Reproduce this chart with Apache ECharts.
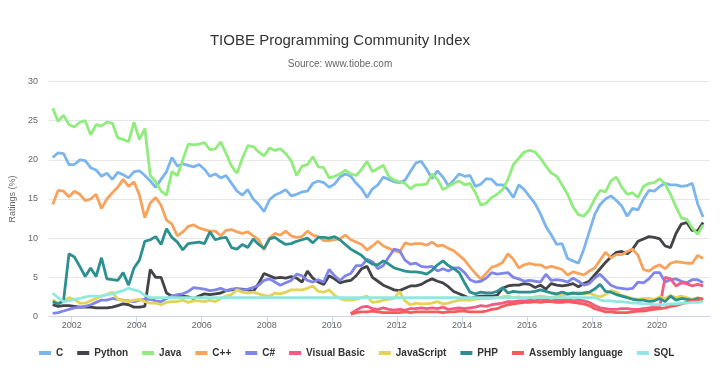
<!DOCTYPE html>
<html>
<head>
<meta charset="utf-8">
<script src="https://cdn.jsdelivr.net/npm/echarts@6/dist/echarts.min.js"></script>
<style>
html,body{margin:0;padding:0;background:#fff;}
#chart{width:727px;height:384px;}
</style>
</head>
<body>
<div id="chart"></div>
<script>
// Monthly series sampled every 2 months, from June 2001 to June 2021
const START_YEAR = 2001;
const START_MONTH = 6;
const STEP_MONTHS = 2;

const xTicks = [2002, 2004, 2006, 2008, 2010, 2012, 2014, 2016, 2018, 2020];
const yTicks = [0, 5, 10, 15, 20, 25, 30];

const seriesNames = ['C', 'Python', 'Java', 'C++', 'C#', 'Visual Basic', 'JavaScript', 'PHP', 'Assembly language', 'SQL'];

const cValues = [
  20.3, 20.9, 20.8, 19.4,
  19.4, 20.0, 19.9, 19.0, 18.7, 17.9,
  18.3, 17.5, 18.4, 18.1, 17.7, 18.5,
  18.6, 18.0, 17.3, 16.5, 17.5, 18.5,
  20.3, 19.2, 19.5, 19.3, 19.1, 19.4,
  18.8, 17.9, 18.2, 17.7, 18.0, 17.0,
  16.0, 15.5, 16.2, 15.0, 14.3, 13.4,
  14.9, 15.5, 15.8, 16.2, 15.4, 15.6,
  15.9, 16.0, 17.0, 17.3, 17.1, 16.5,
  16.9, 17.8, 18.2, 17.9, 17.0, 16.3,
  15.2, 16.3, 16.8, 17.8, 17.5, 17.2,
  17.1, 17.4, 18.5, 19.6, 19.8, 18.8,
  17.6, 18.6, 17.8, 16.7, 17.4, 18.2,
  17.9, 18.0, 16.6, 16.9, 17.6, 17.5,
  16.8, 16.8, 16.2, 15.2, 16.8, 16.2,
  15.3, 14.4, 13.1, 11.5, 10.4, 9.2,
  9.3, 7.4, 7.1, 6.8, 8.6, 10.8,
  13.0, 14.3, 15.0, 15.4, 14.8, 14.1,
  12.8, 13.8, 13.6, 15.0, 16.1, 16.0,
  16.6, 17.0, 16.8, 16.8, 16.6, 16.7,
  17.0, 14.4, 12.7
];

const pythonValues = [
  1.5, 1.3, 1.4, 1.4,
  1.3, 1.2, 1.2, 1.2, 1.1, 1.1,
  1.1, 1.2, 1.4, 1.6, 1.5, 1.2,
  1.2, 1.3, 6.0, 5.0, 5.0, 3.0,
  2.6, 2.6, 2.6, 2.5, 2.3, 2.6,
  2.9, 2.8, 2.9, 3.0, 3.3, 3.4,
  3.5, 3.5, 3.4, 3.2, 4.2, 5.5,
  5.2, 4.9, 5.0, 4.9, 5.1, 4.9,
  4.4, 5.8, 4.9, 4.4, 4.1, 5.2,
  4.8, 4.3, 4.5, 4.6, 5.2, 6.1,
  6.4, 5.0, 4.5, 4.0, 3.7, 3.4,
  3.3, 3.6, 3.9, 3.9, 4.1, 4.5,
  4.8, 4.5, 4.3, 3.8, 3.2, 2.9,
  2.6, 2.3, 2.5, 2.6, 2.6, 2.6,
  2.7, 3.6, 3.9, 4.0, 4.0, 4.2,
  4.1, 3.7, 4.0, 3.5, 4.2, 4.0,
  3.9, 4.0, 4.2, 3.8, 4.2, 4.5,
  5.3, 6.1, 6.9, 7.6, 8.2, 8.3,
  8.0, 8.6, 9.6, 9.9, 10.2, 10.1,
  9.9, 9.0, 8.8, 10.6, 11.8, 12.0,
  11.0, 10.9, 12.0
];

const javaValues = [
  26.6, 24.9, 25.7, 24.5,
  24.2, 24.8, 25.0, 23.2, 24.5, 24.3,
  24.8, 24.7, 22.8, 22.6, 22.3, 24.8,
  22.6, 24.0, 18.0, 17.2, 16.0, 15.5,
  18.5, 18.0, 20.0, 22.0, 21.9, 22.0,
  22.2, 21.3, 21.4, 22.3, 20.8, 19.2,
  18.3, 20.2, 21.8, 21.7, 21.0, 20.5,
  21.5, 21.2, 21.4, 20.8, 19.9, 18.0,
  19.2, 19.4, 20.4, 19.1, 19.0, 17.7,
  17.9, 18.2, 18.7, 18.2, 18.0, 18.8,
  19.8, 18.5, 18.9, 19.3, 17.9, 17.4,
  17.2, 17.0, 16.3, 16.8, 16.8, 16.9,
  18.2, 17.5, 16.2, 16.6, 17.0, 17.3,
  16.8, 17.0, 15.8, 14.2, 14.5, 15.2,
  15.6, 16.2, 17.5, 19.4, 20.2, 21.0,
  21.2, 21.0, 20.2, 19.2, 18.3, 17.9,
  16.8, 15.6, 14.0, 13.0, 12.8, 13.6,
  15.0, 16.1, 15.9, 17.3, 17.8, 16.5,
  15.6, 15.8, 15.2, 16.6, 17.0, 17.1,
  17.6, 16.9, 15.6, 14.0, 12.6, 12.4,
  11.3, 10.5, 11.7
];

const cppValues = [
  14.3, 16.1, 16.0, 15.3,
  16.0, 15.6, 14.8, 15.0, 15.6, 13.8,
  15.0, 15.8, 16.5, 17.5, 16.6, 17.2,
  15.5, 12.6, 14.5, 15.2, 14.2, 12.3,
  11.8, 10.3, 10.8, 11.5, 11.7, 11.3,
  11.1, 10.9, 10.9, 10.3, 11.0, 11.1,
  10.8, 10.6, 10.8, 10.3, 9.8, 8.5,
  10.0, 10.6, 10.4, 10.9, 10.3, 10.1,
  10.2, 10.9, 10.4, 10.2, 9.7, 9.7,
  9.8, 9.9, 10.4, 9.8, 9.5, 9.2,
  8.5, 9.0, 9.6, 9.0, 8.7, 8.4,
  8.2, 9.4, 9.2, 9.3, 9.3, 9.1,
  9.5, 9.0, 9.1, 8.7, 8.4, 7.8,
  7.2, 6.3, 5.5, 4.8, 5.5, 6.3,
  6.5, 6.9, 8.0, 7.3, 6.2, 6.6,
  6.8, 6.6, 6.6, 6.2, 6.4, 6.2,
  6.0, 5.3, 5.7, 5.5, 5.3, 5.8,
  6.2, 7.2, 8.2, 7.5, 7.9, 7.9,
  8.3, 8.6, 7.8, 6.0, 5.8, 6.3,
  6.6, 6.1, 6.8, 7.0, 6.9, 6.8,
  6.8, 7.8, 7.4
];

const csharpValues = [
  0.4, 0.5, 0.7, 0.9,
  1.1, 1.2, 1.3, 1.5, 1.8, 2.1,
  2.1, 2.3, 2.2, 2.1, 2.0, 1.9,
  2.1, 2.2, 2.2, 2.0, 1.9, 2.3,
  2.6, 2.8, 2.9, 3.2, 3.7, 3.6,
  3.5, 3.3, 3.4, 3.6, 3.3, 3.5,
  3.6, 3.4, 3.5, 3.7, 4.0, 4.6,
  4.8, 4.4, 4.0, 4.3, 4.6, 5.4,
  5.2, 4.6, 4.4, 4.7, 4.4, 6.0,
  5.2, 4.6, 5.2, 5.5, 6.5, 6.5,
  7.3, 7.0, 6.1, 6.5, 7.6, 8.6,
  8.4, 7.2, 6.7, 6.8, 6.4, 6.3,
  6.4, 5.8, 6.1, 5.8, 6.2, 6.2,
  5.6, 4.7, 4.4, 4.5, 4.9, 5.6,
  5.4, 5.5, 5.6, 5.0, 4.8, 4.5,
  4.6, 4.5, 4.4, 5.4, 4.6, 4.7,
  4.6, 4.4, 4.9, 4.5, 4.0, 4.2,
  4.9, 5.4, 4.7, 4.0, 3.7, 3.6,
  3.5, 3.6, 4.4, 4.3, 4.8, 5.6,
  5.6, 4.4, 4.7, 4.8, 4.5, 4.3,
  4.7, 4.7, 4.3
];

// Visual Basic and Assembly language are only tracked from August 2010 (index 55)
const vbValues = [
  null, null, null, null,
  null, null, null, null, null, null,
  null, null, null, null, null, null,
  null, null, null, null, null, null,
  null, null, null, null, null, null,
  null, null, null, null, null, null,
  null, null, null, null, null, null,
  null, null, null, null, null, null,
  null, null, null, null, null, null,
  null, null, null, 0.4, 0.8, 1.2,
  1.3, 1.0, 0.9, 1.1, 0.9, 0.8,
  0.9, 0.8, 1.0, 1.0, 1.1, 1.0,
  1.1, 1.0, 1.2, 0.9, 1.0, 1.1,
  1.0, 1.1, 1.2, 1.4, 1.3, 1.5,
  1.6, 1.7, 1.9, 1.9, 2.0, 2.0,
  2.1, 2.0, 2.2, 2.1, 2.0, 2.1,
  2.1, 2.2, 2.0, 2.1, 2.0, 1.8,
  1.4, 1.1, 1.0, 0.9, 0.9, 1.0,
  1.0, 0.9, 0.9, 1.0, 1.1, 1.2,
  1.2, 5.0, 4.8, 3.9, 4.3, 4.2,
  3.9, 4.1, 3.9
];

const jsValues = [
  2.1, 1.7, 1.9, 2.4,
  2.2, 1.7, 1.7, 2.0, 2.3, 2.6,
  2.8, 3.1, 2.2, 2.1, 1.9, 2.1,
  2.2, 1.9, 1.7, 1.7, 1.5, 1.8,
  1.9, 1.9, 2.1, 1.8, 2.0, 2.0,
  1.9, 2.1, 1.9, 2.3, 2.6, 2.8,
  3.4, 3.1, 3.0, 3.1, 2.9, 2.7,
  2.6, 3.0, 2.9, 3.1, 3.4, 3.4,
  3.4, 3.6, 3.9, 3.2, 3.1, 3.4,
  2.7, 2.3, 2.1, 2.1, 2.2, 2.4,
  2.6, 1.8, 1.9, 2.1, 2.2, 2.3,
  3.2, 2.0, 1.5, 1.7, 1.6, 1.6,
  1.7, 1.9, 1.6, 1.7, 1.9, 2.1,
  2.1, 2.1, 2.2, 2.3, 2.3, 2.3,
  2.4, 2.5, 2.6, 2.4, 2.5, 2.3,
  2.4, 2.5, 2.6, 2.5, 2.4, 2.6,
  2.7, 2.8, 2.9, 3.1, 2.9, 3.0,
  2.7, 2.5, 2.8, 3.3, 3.1, 2.7,
  2.5, 2.3, 2.2, 2.3, 2.3, 2.2,
  2.5, 2.3, 2.7, 2.4, 2.6, 2.4,
  2.2, 2.4, 2.2
];

const phpValues = [
  1.9, 1.6, 2.0, 8.0,
  7.6, 6.4, 5.1, 6.2, 5.1, 7.5,
  4.8, 4.7, 4.6, 5.6, 4.0, 6.2,
  7.2, 9.6, 9.8, 10.2, 9.2, 11.2,
  10.1, 9.5, 8.5, 9.3, 9.4, 9.5,
  9.3, 10.8, 9.8, 10.0, 10.1, 8.8,
  8.6, 9.2, 8.8, 9.9, 9.2, 8.7,
  9.9, 10.1, 9.6, 9.2, 9.3, 9.6,
  9.8, 10.0, 9.4, 10.1, 10.1, 10.0,
  10.2, 9.8, 9.2, 8.6, 8.2, 7.8,
  7.1, 6.7, 6.6, 7.1, 6.7, 6.2,
  6.0, 5.8, 5.7, 5.7, 5.6, 5.4,
  5.9, 6.6, 7.1, 6.5, 6.1, 5.6,
  4.3, 3.1, 2.9, 3.1, 3.0, 3.0,
  3.2, 3.7, 3.0, 3.2, 3.1, 3.1,
  3.1, 3.2, 3.4, 3.2, 3.0, 2.9,
  3.1, 2.9, 3.0, 2.9, 3.0, 3.1,
  3.5, 4.1, 3.2, 3.1, 2.8, 2.6,
  2.4, 2.2, 2.1, 2.1, 1.9, 2.0,
  2.3, 1.9, 2.6, 2.1, 2.3, 2.2,
  2.1, 2.3, 2.2
];

const asmValues = [
  null, null, null, null,
  null, null, null, null, null, null,
  null, null, null, null, null, null,
  null, null, null, null, null, null,
  null, null, null, null, null, null,
  null, null, null, null, null, null,
  null, null, null, null, null, null,
  null, null, null, null, null, null,
  null, null, null, null, null, null,
  null, null, null, 0.3, 0.5, 0.6,
  0.6, 0.7, 0.6, 0.5, 0.5, 0.5,
  0.5, 0.6, 0.5, 0.6, 0.6, 0.6,
  0.6, 0.6, 0.5, 0.6, 0.6, 0.7,
  0.7, 0.6, 0.6, 0.6, 0.7, 0.9,
  1.0, 1.3, 1.5, 1.6, 1.7, 1.8,
  1.8, 1.9, 1.8, 1.9, 1.9, 1.8,
  1.8, 1.9, 1.8, 1.7, 1.6, 1.4,
  1.0, 0.8, 0.6, 0.6, 0.5, 0.5,
  0.5, 0.6, 0.7, 0.7, 0.8, 0.9,
  1.0, 1.1, 1.3, 1.4, 1.6, 1.8,
  2.0, 2.1, 2.3
];

const sqlValues = [
  3.0, 2.4, 1.9, 2.0,
  2.2, 2.3, 2.5, 2.6, 2.6, 2.6,
  2.8, 2.9, 3.1, 3.3, 3.6, 3.4,
  3.2, 2.7, 2.4, 2.4, 2.4, 2.4,
  2.4, 2.4, 2.4, 2.4, 2.4, 2.4,
  2.4, 2.4, 2.4, 2.4, 2.4, 2.4,
  2.4, 2.4, 2.4, 2.4, 2.4, 2.4,
  2.4, 2.4, 2.4, 2.4, 2.4, 2.4,
  2.4, 2.4, 2.4, 2.4, 2.4, 2.4,
  2.4, 2.4, 2.4, 2.4, 2.4, 2.4,
  2.4, 2.4, 2.4, 2.4, 2.4, 2.4,
  2.4, 2.4, 2.4, 2.4, 2.4, 2.4,
  2.4, 2.4, 2.4, 2.4, 2.4, 2.4,
  2.4, 2.4, 2.4, 2.4, 2.4, 2.4,
  2.4, 2.4, 2.4, 2.4, 2.4, 2.4,
  2.4, 2.4, 2.4, 2.4, 2.4, 2.4,
  2.4, 2.4, 2.4, 2.4, 2.4, 2.4,
  2.4, 2.1, 2.0, 2.0, 1.9, 1.9,
  1.8, 1.7, 1.7, 1.6, 1.6, 1.5,
  1.5, 1.5, 1.6, 1.6, 1.7, 1.7,
  1.8, 1.8, 1.9
];

const allValues = [cValues, pythonValues, javaValues, cppValues, csharpValues, vbValues, jsValues, phpValues, asmValues, sqlValues];
const colors = ['#7cb5ec', '#434348', '#90ed7d', '#f7a35c', '#8085e9', '#f15c80', '#e4d354', '#2b908f', '#f45b5b', '#91e8e1'];

function yearOf(i) {
  return START_YEAR + (START_MONTH - 1 + i * STEP_MONTHS) / 12;
}
function toPoints(values) {
  const pts = [];
  values.forEach((v, i) => { if (v !== null) pts.push([yearOf(i), v]); });
  return pts;
}

const FONT = '"Liberation Sans", Arial, sans-serif';
const chart = echarts.init(document.getElementById('chart'), null, { renderer: 'canvas' });

chart.setOption({
  animation: false,
  backgroundColor: '#ffffff',
  color: colors,
  title: {
    text: 'TIOBE Programming Community Index',
    subtext: 'Source: www.tiobe.com',
    left: 340,
    textAlign: 'center',
    top: 32,
    itemGap: 8,
    padding: 0,
    textStyle: { fontFamily: FONT, fontSize: 15, fontWeight: 'normal', color: '#333333', lineHeight: 18 },
    subtextStyle: { fontFamily: FONT, fontSize: 10, color: '#666666', lineHeight: 12 }
  },
  legend: {
    data: seriesNames,
    left: 39,
    top: 348,
    padding: 0,
    icon: 'rect',
    itemWidth: 12,
    itemHeight: 4,
    itemGap: 14,
    textStyle: { fontFamily: FONT, fontSize: 10, fontWeight: 'bold', color: '#333333' }
  },
  grid: { left: 47, right: 17, top: 81.5, bottom: 67.5, containLabel: false },
  xAxis: {
    type: 'value',
    min: 2001.30,
    max: 2021.63,
    axisLine: { show: true, lineStyle: { color: '#ccd6eb', width: 1 } },
    axisTick: { show: true, customValues: xTicks, length: 8, lineStyle: { color: '#ccd6eb' } },
    axisLabel: { customValues: xTicks, formatter: v => String(Math.round(v)), color: '#666666', fontFamily: FONT, fontSize: 9, margin: 5 },
    splitLine: { show: false }
  },
  yAxis: {
    type: 'value',
    min: 0,
    max: 30,
    interval: 5,
    name: 'Ratings (%)',
    nameLocation: 'middle',
    nameGap: 30,
    nameTextStyle: { color: '#666666', fontFamily: FONT, fontSize: 9 },
    axisLine: { show: false },
    axisTick: { show: false },
    axisLabel: { color: '#666666', fontFamily: FONT, fontSize: 9, margin: 11 },
    splitLine: { lineStyle: { color: '#e6e6e6', width: 1 } }
  },
  series: seriesNames.map((name, k) => ({
    name: name,
    type: 'line',
    data: toPoints(allValues[k]),
    showSymbol: false,
    symbol: 'none',
    lineStyle: { width: 2.8, color: colors[k] },
    itemStyle: { color: colors[k] },
    emphasis: { disabled: true }
  }))
});
</script>
</body>
</html>
